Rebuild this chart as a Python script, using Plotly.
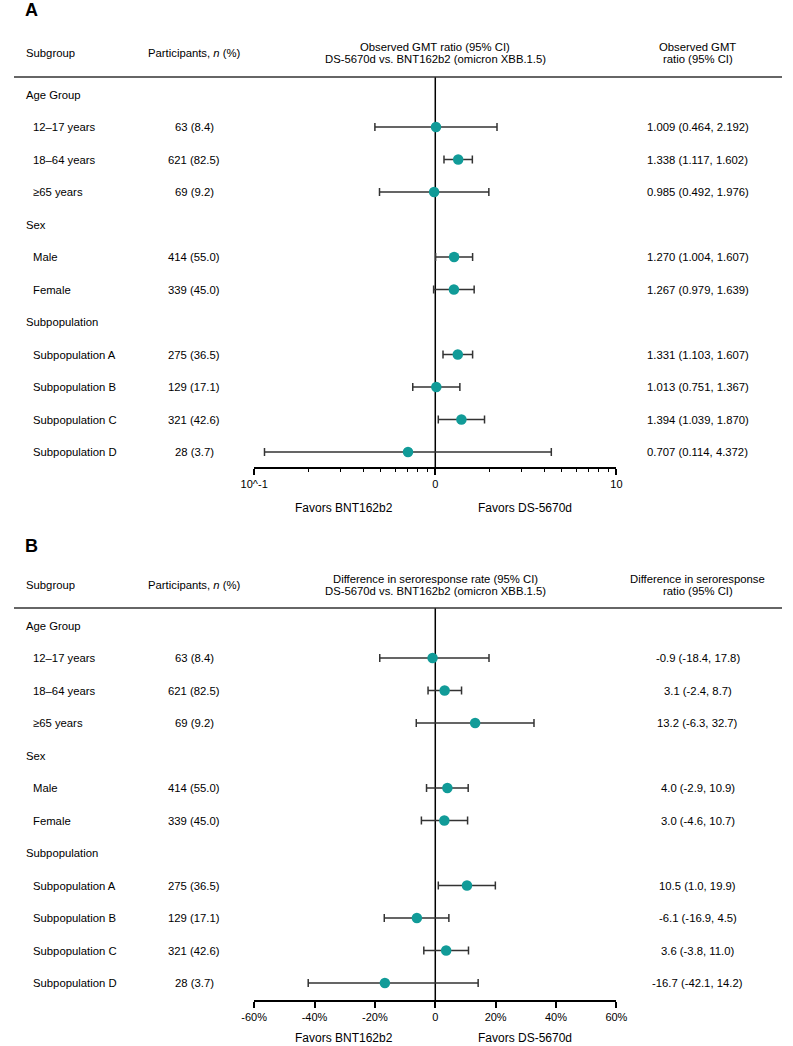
import plotly.graph_objects as go

# ---------------- data ----------------
group_names = ["Age Group", "Sex", "Subpopulation"]
group_items = [
    ["12\u201317 years", "18\u201364 years", "\u226565 years"],
    ["Male", "Female"],
    ["Subpopulation A", "Subpopulation B", "Subpopulation C", "Subpopulation D"],
]
n_participants = [63, 621, 69, 414, 339, 275, 129, 321, 28]
pct_participants = [8.4, 82.5, 9.2, 55.0, 45.0, 36.5, 17.1, 42.6, 3.7]

gmt_ratio = [1.009, 1.338, 0.985, 1.270, 1.267, 1.331, 1.013, 1.394, 0.707]
gmt_lo = [0.464, 1.117, 0.492, 1.004, 0.979, 1.103, 0.751, 1.039, 0.114]
gmt_hi = [2.192, 1.602, 1.976, 1.607, 1.639, 1.607, 1.367, 1.870, 4.372]

sero_diff = [-0.9, 3.1, 13.2, 4.0, 3.0, 10.5, -6.1, 3.6, -16.7]
sero_lo = [-18.4, -2.4, -6.3, -2.9, -4.6, 1.0, -16.9, -3.8, -42.1]
sero_hi = [17.8, 8.7, 32.7, 10.9, 10.7, 19.9, 4.5, 11.0, 14.2]

gmt_tickvals = [0.1, 1, 10]
gmt_ticktext = ["10^-1", "0", "10"]
gmt_minor = [0.2, 0.3, 0.4, 0.5, 0.6, 0.7, 0.8, 0.9, 2, 3, 4, 5, 6, 7, 8, 9]
sero_tickvals = [-60, -40, -20, 0, 20, 40, 60]
sero_ticktext = ["-60%", "-40%", "-20%", "0", "20%", "40%", "60%"]

# ---------------- layout helpers ----------------
W, H = 793, 1046
FONT = "Liberation Sans, Arial, sans-serif"
TEAL = "#119b98"
FS = 11.3

def py(pix):
    return 1 - pix / H

def px(pix):
    return pix / W

# row positions: group header rows and item rows
row_labels, row_is_header, item_rows = [], [], []
r = 0
for g, items in zip(group_names, group_items):
    row_labels.append(g); row_is_header.append(True); r += 1
    for it in items:
        row_labels.append(it); row_is_header.append(False); item_rows.append(r); r += 1

fig = go.Figure()

panels = [
    dict(x="x", y="y", xa="xaxis", ya="yaxis", val=gmt_ratio, lo=gmt_lo, hi=gmt_hi,
         top=77, bottom=467, letter="A", letter_y=10, head_y=53, favors_y=508,
         center_head=["Observed GMT ratio (95% CI)", "DS-5670d vs. BNT162b2 (omicron XBB.1.5)"],
         right_head=["Observed GMT", "ratio (95% CI)"],
         fmt=lambda v, a, b: f"{v:.3f} ({a:.3f}, {b:.3f})", ref=1),
    dict(x="x2", y="y2", xa="xaxis2", ya="yaxis2", val=sero_diff, lo=sero_lo, hi=sero_hi,
         top=608, bottom=1000, letter="B", letter_y=546, head_y=585, favors_y=1038,
         center_head=["Difference in seroresponse rate (95% CI)", "DS-5670d vs. BNT162b2 (omicron XBB.1.5)"],
         right_head=["Difference in seroresponse", "ratio (95% CI)"],
         fmt=lambda v, a, b: f"{v:.1f} ({a:.1f}, {b:.1f})", ref=0),
]

ROW0_OFFSET = 17.5   # px from header line to first row
ROW_STEP = 32.5
HEAD_GAP = 6.4       # half distance between two header lines

annotations = []
shapes = []

def txt_ann(text, x, y, anchor="center", size=FS, yref="paper"):
    annotations.append(dict(text=text, xref="paper", yref=yref, x=x, y=y,
                            xanchor=anchor, yanchor="middle", align="center", showarrow=False,
                            font=dict(size=size, family=FONT, color="black")))

for p in panels:
    top, bottom = p["top"], p["bottom"]
    first = top + ROW0_OFFSET
    rmin = (top - first) / ROW_STEP
    rmax = (bottom - first) / ROW_STEP
    val, lo, hi = p["val"], p["lo"], p["hi"]
    fig.add_trace(go.Scatter(
        x=val, y=item_rows, xaxis=p["x"], yaxis=p["y"], mode="markers",
        marker=dict(color=TEAL, size=10.5, line=dict(width=0)),
        error_x=dict(type="data", symmetric=False,
                     array=[h - v for h, v in zip(hi, val)],
                     arrayminus=[v - l for v, l in zip(val, lo)],
                     color="#333333", thickness=1.5, width=4),
        showlegend=False, hoverinfo="skip"))
    # y axis (hidden)
    fig.layout[p["ya"]] = dict(domain=[py(bottom), py(top)], range=[rmax, rmin],
                               visible=False, fixedrange=True)
    # vertical reference line
    shapes.append(dict(type="line", xref=p["x"], yref=p["y"] + " domain", x0=p["ref"], x1=p["ref"],
                       y0=0, y1=1, line=dict(color="black", width=1.5), layer="below"))
    # header line
    shapes.append(dict(type="line", xref="paper", yref="paper", x0=0, x1=1,
                       y0=py(top), y1=py(top), line=dict(color="#333333", width=1.5)))
    # panel letter
    txt_ann(f"<b>{p['letter']}</b>", px(9), py(p["letter_y"]), anchor="left", size=18)
    # headers
    hy = p["head_y"]
    txt_ann("Subgroup", px(10), py(hy), anchor="left")
    txt_ann("Participants, <i>n</i> (%)", px(186), py(hy))
    for k, line in enumerate(p["center_head"]):
        txt_ann(line, px(435), py(hy - HEAD_GAP + 2 * HEAD_GAP * k))
    for k, line in enumerate(p["right_head"]):
        txt_ann(line, px(706), py(hy - HEAD_GAP + 2 * HEAD_GAP * k))
    # row labels
    for i, (lab, hdr) in enumerate(zip(row_labels, row_is_header)):
        txt_ann(lab, px(10 if hdr else 18), i, anchor="left", yref=p["y"])
    for k, rr in enumerate(item_rows):
        txt_ann(f"{n_participants[k]} ({pct_participants[k]:.1f})", px(186), rr, yref=p["y"])
        txt_ann(p["fmt"](val[k], lo[k], hi[k]), px(706), rr, yref=p["y"])
    # favors labels
    for t, x in [("Favors BNT162b2", 341), ("Favors DS-5670d", 528)]:
        txt_ann(t, px(x), py(p["favors_y"]), size=12)

xcommon = dict(domain=[px(248), px(622)], showgrid=False, zeroline=False, showline=True,
               linecolor="black", linewidth=1.5, ticks="outside", ticklen=6, tickwidth=1.5,
               tickcolor="black", tickfont=dict(size=11, family=FONT, color="black"),
               fixedrange=True, tickmode="array")

fig.update_layout(
    xaxis=dict(xcommon, type="log", range=[-1, 1], tickvals=gmt_tickvals, ticktext=gmt_ticktext,
               anchor="y",
               minor=dict(ticks="outside", ticklen=3.5, tickwidth=1.2, tickcolor="black",
                          tickmode="array", tickvals=gmt_minor, showgrid=False)),
    xaxis2=dict(xcommon, range=[-60, 60], tickvals=sero_tickvals, ticktext=sero_ticktext,
                anchor="y2"),
    width=W, height=H, margin=dict(l=0, r=0, t=0, b=0),
    paper_bgcolor="white", plot_bgcolor="white",
    font=dict(family=FONT, color="black"),
    showlegend=False, annotations=annotations, shapes=shapes,
)

fig.write_html(
    "out.html",
    config={"displayModeBar": False},
    post_script="document.body.style.margin='0';document.body.style.padding='0';"
                "document.body.style.overflow='hidden';",
)
